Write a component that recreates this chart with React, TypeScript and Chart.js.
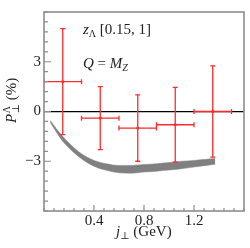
import React, { useEffect, useRef } from 'react';
import { Chart, registerables } from 'chart.js';

Chart.register(...registerables);

// ---- data ----
const pointX = [0.15, 0.45, 0.75, 1.05, 1.35];
const pointY = [1.8, -0.4, -1.0, -0.8, 0.0];
const xErr = [0.15, 0.15, 0.15, 0.15, 0.15];
const yErr = [3.2, 1.9, 2.0, 2.25, 2.75];

const bandX = [0.05, 0.1, 0.15, 0.2, 0.3, 0.4, 0.5, 0.6, 0.7, 0.8, 0.9, 1.0, 1.1, 1.2, 1.3, 1.37];
const bandUpper = [-0.55, -1.05, -1.5, -1.9, -2.55, -2.95, -3.15, -3.25, -3.25, -3.2, -3.15, -3.08, -3.0, -2.95, -2.88, -2.84];
const bandLower = [-0.65, -1.25, -1.8, -2.2, -2.85, -3.3, -3.55, -3.7, -3.72, -3.65, -3.6, -3.53, -3.45, -3.35, -3.25, -3.18];

const xMajorTicks = [0.4, 0.8, 1.2];
const xTickLabels = ['0.4', '0.8', '1.2'];
const yMajorTicks = [-3, 0, 3];
const yTickLabels = ['\u22123', '0', '3'];

const FONT = '"Liberation Serif", "DejaVu Serif", serif';
const RED = '#ff2a2a';
const FRAME = '#8c8c8c';

type Run = { text: string; italic?: boolean; size: number; dy?: number };

function drawRuns(ctx: CanvasRenderingContext2D, x: number, y: number, runs: Run[]) {
  for (const r of runs) {
    ctx.font = `${r.italic ? 'italic ' : ''}${r.size}px ${FONT}`;
    ctx.fillText(r.text, x, y + (r.dy || 0));
    x += ctx.measureText(r.text).width;
  }
}

const isMajor = (v: number, list: number[]) => list.findIndex((m) => Math.abs(m - v) < 1e-6);

const decorPlugin = {
  id: 'decor',
  afterDatasetsDraw(chart: any) {
    const { ctx, chartArea: a, scales } = chart;
    const xs = scales.x;
    const ys = scales.y;
    ctx.save();
    ctx.beginPath();
    ctx.rect(a.left, a.top, a.right - a.left, a.bottom - a.top);
    ctx.clip();
    ctx.strokeStyle = RED;
    ctx.lineWidth = 1.3;
    const cap = 2.5;
    for (let i = 0; i < pointX.length; i++) {
      const px = xs.getPixelForValue(pointX[i]);
      const py = ys.getPixelForValue(pointY[i]);
      const x0 = xs.getPixelForValue(pointX[i] - xErr[i]);
      const x1 = xs.getPixelForValue(pointX[i] + xErr[i]);
      const y0 = ys.getPixelForValue(pointY[i] - yErr[i]);
      const y1 = ys.getPixelForValue(pointY[i] + yErr[i]);
      ctx.beginPath();
      ctx.moveTo(px, y0); ctx.lineTo(px, y1);
      ctx.moveTo(px - cap, y0); ctx.lineTo(px + cap, y0);
      ctx.moveTo(px - cap, y1); ctx.lineTo(px + cap, y1);
      ctx.moveTo(x0, py); ctx.lineTo(x1, py);
      ctx.moveTo(x0, py - cap); ctx.lineTo(x0, py + cap);
      ctx.moveTo(x1, py - cap); ctx.lineTo(x1, py + cap);
      ctx.stroke();
    }
    ctx.restore();
  },
  afterDraw(chart: any) {
    const { ctx, chartArea: a, scales } = chart;
    const xs = scales.x;
    const ys = scales.y;
    ctx.save();
    // frame
    ctx.strokeStyle = FRAME;
    ctx.lineWidth = 1.6;
    ctx.strokeRect(a.left, a.top, a.right - a.left, a.bottom - a.top);
    // inward ticks
    ctx.lineWidth = 1.2;
    ctx.beginPath();
    for (const t of xs.ticks) {
      const p = xs.getPixelForValue(t.value);
      const len = isMajor(t.value, xMajorTicks) >= 0 ? 6 : 3;
      ctx.moveTo(p, a.bottom);
      ctx.lineTo(p, a.bottom - len);
    }
    for (const t of ys.ticks) {
      const p = ys.getPixelForValue(t.value);
      const len = isMajor(t.value, yMajorTicks) >= 0 ? 7 : 4;
      ctx.moveTo(a.left, p);
      ctx.lineTo(a.left + len, p);
    }
    ctx.stroke();

    // texts
    ctx.fillStyle = '#222';
    ctx.textBaseline = 'alphabetic';
    ctx.textAlign = 'left';
    drawRuns(ctx, 83, 34, [
      { text: 'z', italic: true, size: 15 },
      { text: '\u039B', size: 10, dy: 3 },
      { text: ' [0.15, 1]', size: 15 },
    ]);
    drawRuns(ctx, 83, 68, [
      { text: 'Q', italic: true, size: 15 },
      { text: ' = ', size: 15 },
      { text: 'M', italic: true, size: 15 },
      { text: 'Z', italic: true, size: 10, dy: 3 },
    ]);
    // x title
    drawRuns(ctx, 116, 236, [
      { text: 'j', italic: true, size: 15 },
      { text: '\u22A5', size: 10, dy: 3 },
      { text: ' (GeV)', size: 15 },
    ]);
    // y title (rotated)
    ctx.translate(16, 123);
    ctx.rotate(-Math.PI / 2);
    ctx.font = `italic 15px ${FONT}`;
    ctx.fillText('P', 0, 0);
    let x = ctx.measureText('P').width + 0.5;
    ctx.font = `10px ${FONT}`;
    ctx.fillText('\u039B', x, -6);
    ctx.fillText('\u22A5', x, 3);
    x += Math.max(ctx.measureText('\u039B').width, ctx.measureText('\u22A5').width);
    ctx.font = `15px ${FONT}`;
    ctx.fillText(' (%)', x, 0);
    ctx.restore();
  },
};

export default function App() {
  const ref = useRef<HTMLCanvasElement>(null);
  useEffect(() => {
    if (!ref.current) return;
    const chart = new Chart(ref.current, {
      type: 'scatter',
      data: {
        datasets: [
          {
            type: 'line',
            label: 'lower',
            data: bandX.map((x, i) => ({ x, y: bandLower[i] })),
            borderColor: '#808080',
            borderWidth: 0.5,
            pointRadius: 0,
            fill: false,
            cubicInterpolationMode: 'monotone',
          } as any,
          {
            type: 'line',
            label: 'upper',
            data: bandX.map((x, i) => ({ x, y: bandUpper[i] })),
            borderColor: '#808080',
            borderWidth: 0.5,
            backgroundColor: '#808080',
            pointRadius: 0,
            fill: '-1',
            cubicInterpolationMode: 'monotone',
          } as any,
          {
            label: 'data',
            data: pointX.map((x, i) => ({ x, y: pointY[i] })),
            pointStyle: 'rect',
            pointRadius: 1.8,
            backgroundColor: RED,
            borderColor: RED,
            borderWidth: 0,
          },
        ],
      },
      options: {
        responsive: false,
        animation: false,
        layout: { padding: { left: 0, top: 3, right: 6, bottom: 0 } },
        plugins: { legend: { display: false }, tooltip: { enabled: false } },
        scales: {
          x: {
            type: 'linear',
            min: 0,
            max: 1.6,
            border: { display: false },
            grid: { display: false, drawTicks: false },
            afterFit: (s: any) => { s.height = 37; },
            ticks: {
              stepSize: 0.08,
              autoSkip: false,
              maxRotation: 0,
              padding: 1,
              color: '#222',
              font: { family: FONT, size: 15 },
              callback: (v: any) => {
                const k = isMajor(Number(v), xMajorTicks);
                return k >= 0 ? xTickLabels[k] : '';
              },
            },
          },
          y: {
            type: 'linear',
            min: -6,
            max: 6,
            border: { display: false },
            grid: {
              drawTicks: false,
              lineWidth: 1.3,
              color: (c: any) => (c.tick && Math.abs(c.tick.value) < 1e-6 ? '#000' : 'rgba(0,0,0,0)'),
            },
            afterFit: (s: any) => { s.width = 44; },
            ticks: {
              stepSize: 0.6,
              autoSkip: false,
              padding: 3,
              color: '#222',
              font: { family: FONT, size: 15 },
              callback: (v: any) => {
                const k = isMajor(Number(v), yMajorTicks);
                return k >= 0 ? yTickLabels[k] : '';
              },
            },
          },
        },
      },
      plugins: [decorPlugin],
    });
    return () => chart.destroy();
  }, []);
  return (
    <div style={{ position: 'fixed', left: 0, top: 0, width: 250, height: 248 }}>
      <canvas ref={ref} width={250} height={248} style={{ display: 'block' }} />
    </div>
  );
}
